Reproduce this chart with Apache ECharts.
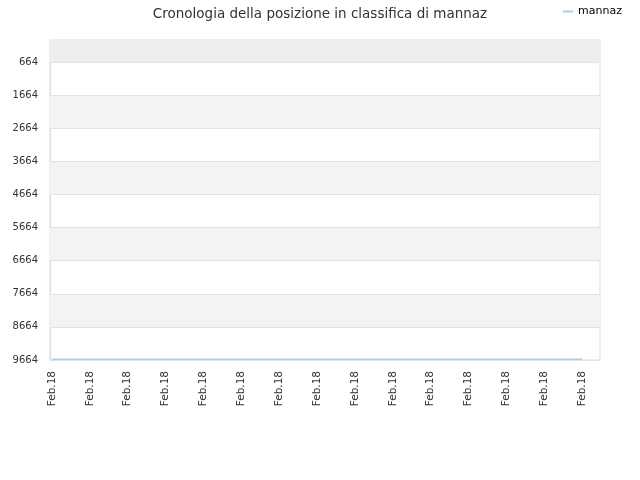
<!DOCTYPE html>
<html><head><meta charset="utf-8">
<script src="https://cdn.jsdelivr.net/npm/echarts@6/dist/echarts.min.js"></script>
<style>html,body{margin:0;padding:0;background:#fff}#c{width:640px;height:480px}</style>
</head><body><div id="c"></div>
<script>
const categories = ['Feb.18','Feb.18','Feb.18','Feb.18','Feb.18','Feb.18','Feb.18','Feb.18','Feb.18','Feb.18','Feb.18','Feb.18','Feb.18','Feb.18','Feb.18'];
const ranks = [9640,9640,9640,9640,9640,9640,9640,9640,9640,9640,9640,9640,9640,9640,9640];
const yTicks = [664,1664,2664,3664,4664,5664,6664,7664,8664,9664];
const grayBands = [[0,664],[1664,2664],[3664,4664],[5664,6664],[7664,8664]];

const chart = echarts.init(document.getElementById('c'));
const font = 'DejaVu Sans';
chart.setOption({
  animation:false,
  title:{text:'Cronologia della posizione in classifica di mannaz',left:'center',top:2,
    textStyle:{fontFamily:font,fontSize:13.5,fontWeight:'normal',color:'#333'}},
  legend:{right:13,top:1,icon:'rect',itemWidth:10,itemHeight:2,itemGap:8,
    textStyle:{fontFamily:font,fontSize:11,color:'#000'},data:['mannaz']},
  grid:{left:50,right:40,top:40,bottom:120,show:true,borderColor:'#dddddd',borderWidth:1,backgroundColor:'#fff'},
  xAxis:{type:'value',min:-0.05,max:14.47,
    axisLine:{show:false},axisTick:{show:false},splitLine:{show:false},
    axisLabel:{customValues:categories.map((c,i)=>i),rotate:90,fontFamily:font,fontSize:10.5,color:'#333',margin:11,
      formatter:(v)=>categories[Math.round(v)]}},
  yAxis:{type:'value',inverse:true,min:0,max:9664,
    axisLine:{show:true,onZero:false,lineStyle:{color:'#dddddd'}},
    axisTick:{show:false,customValues:yTicks},
    axisLabel:{customValues:yTicks,fontFamily:font,fontSize:10,color:'#333',margin:12,align:'right',
      formatter:(v)=>String(v)},
    splitLine:{show:false}},
  series:[{name:'mannaz',type:'line',showSymbol:false,symbol:'none',
    data:ranks.map((v,i)=>[i,v]),
    lineStyle:{color:'#a8cdf0',width:1.5},itemStyle:{color:'#a8cdf0'},
    markArea:{silent:true,
      data:grayBands.map((b,i)=>[{yAxis:b[0],itemStyle:{color:i===0?'#eeeeee':'#f3f3f3'}},{yAxis:b[1]}])},
    markLine:{silent:true,symbol:'none',label:{show:false},
      lineStyle:{color:'#e2e2e2',type:'solid',width:1},
      data:yTicks.map(v=>({yAxis:v}))}
  }]
});
</script></body></html>
